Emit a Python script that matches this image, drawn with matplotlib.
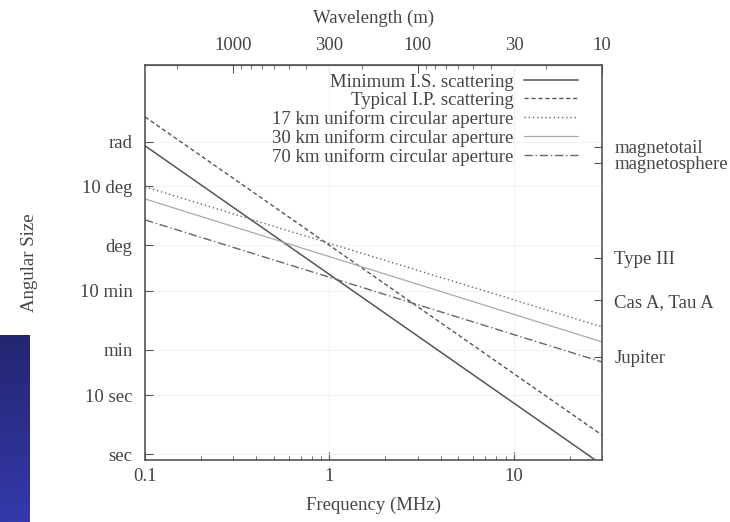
import numpy as np
import matplotlib
matplotlib.use("Agg")
import matplotlib.pyplot as plt

plt.rcParams["font.family"] = ["Liberation Serif", "DejaVu Serif"]
plt.rcParams["font.size"] = 13.5

# Data (angular sizes in radians)
freq_mhz = [0.1, 30.0]
is_scatter = [0.86, 3.2e-6]      # Minimum I.S. scattering
ip_scatter = [2.67, 1.02e-5]     # Typical I.P. scattering
ap17 = [0.172, 7.1e-4]           # 17 km uniform circular aperture
ap30 = [0.107, 3.93e-4]          # 30 km
ap70 = [0.047, 1.79e-4]          # 70 km

ARCSEC = np.pi / 180 / 3600
y_ticks = [ARCSEC, 10 * ARCSEC, 60 * ARCSEC, 600 * ARCSEC,
           np.pi / 180, 10 * np.pi / 180, 1.0]
y_labels = ["sec", "10 sec", "min", "10 min", "deg", "10 deg", "rad"]

right_ticks = [0.82, 0.44, 0.0106, 2.0e-3, 2.2e-4]
right_labels = ["magnetotail", "magnetosphere", "Type III",
                "Cas A, Tau A", "Jupiter"]

wl_ticks = [1000, 300, 100, 30, 10]

TXT = "#444444"
AXC = "#555555"

fig = plt.figure(figsize=(7.30, 5.22), dpi=100)
ax = fig.add_axes([145/730, 1-460/522, (602-145)/730, (460-65)/522])

ax.plot(freq_mhz, is_scatter, color="#555555", lw=1.1, ls="-",
        label="Minimum I.S. scattering")
ax.plot(freq_mhz, ip_scatter, color="#555555", lw=1.0, ls=(0, (3, 2)),
        label="Typical I.P. scattering")
ax.plot(freq_mhz, ap17, color="#666666", lw=1.0, ls=(0, (1, 2)),
        label="17 km uniform circular aperture")
ax.plot(freq_mhz, ap30, color="#aaaaaa", lw=0.9, ls="-",
        label="30 km uniform circular aperture")
ax.plot(freq_mhz, ap70, color="#666666", lw=1.0, ls=(0, (6, 2, 1, 2)),
        label="70 km uniform circular aperture")

ax.set_xscale("log"); ax.set_yscale("log")
ax.set_xlim(0.1, 30)
ax.set_ylim(10**-5.416, 10**1.31)

ax.set_xticks([0.1, 1, 10])
ax.set_xticklabels(["0.1", "1", "10"])
ax.set_yticks(y_ticks)
ax.set_yticklabels(y_labels)
ax.yaxis.set_minor_locator(matplotlib.ticker.NullLocator())
ax.tick_params(axis="both", which="both", direction="in", colors=AXC,
               labelcolor=TXT, top=False, right=False)
ax.tick_params(axis="y", which="major", length=6, pad=9)
ax.tick_params(axis="x", which="major", length=6, pad=6)
ax.tick_params(axis="x", which="minor", length=3)
ax.grid(True, which="major", color="#f2f2f2", lw=0.8)
for s in ax.spines.values():
    s.set_color(AXC); s.set_linewidth(1.2)

ax.set_xlabel("Frequency (MHz)", color=TXT, labelpad=8)
ax.set_ylabel("Angular Size", color=TXT)
ax.yaxis.set_label_coords((38 - 145) / 457, 0.5)

# top axis: wavelength
top = ax.secondary_xaxis("top", functions=(lambda f: 300.0 / f, lambda w: 300.0 / w))
top.set_xticks(wl_ticks)
top.set_xticklabels([str(w) for w in wl_ticks])
top.tick_params(axis="x", which="both", direction="in", colors=AXC, labelcolor=TXT)
top.tick_params(axis="x", which="major", length=6, pad=8)
top.tick_params(axis="x", which="minor", length=3)
top.spines["top"].set_color(AXC)
top.set_xlabel("Wavelength (m)", color=TXT, labelpad=10)

# right axis: source sizes
rax = ax.twinx()
rax.set_yscale("log")
rax.set_ylim(ax.get_ylim())
rax.set_yticks(right_ticks)
rax.set_yticklabels(right_labels)
rax.yaxis.set_minor_locator(matplotlib.ticker.NullLocator())
rax.tick_params(axis="y", direction="in", length=6, pad=9, colors=AXC,
                labelcolor=TXT)
for s in rax.spines.values():
    s.set_visible(False)

leg = ax.legend(loc="upper right", frameon=False, markerfirst=False,
                handlelength=2.9, handletextpad=0.53, labelspacing=0.06,
                borderaxespad=0.3, bbox_to_anchor=(0.976, 1.012))
for t in leg.get_texts():
    t.set_color(TXT)

# blue slide strip on the left
bax = fig.add_axes([0, 0, 29/730, (522-335)/522])
grad = np.linspace(0, 1, 100).reshape(-1, 1)
cmap = matplotlib.colors.LinearSegmentedColormap.from_list("s", ["#23266f", "#3539aa"])
bax.imshow(grad, aspect="auto", cmap=cmap, origin="upper")
bax.axis("off")

fig.savefig("out.png", dpi=100)
